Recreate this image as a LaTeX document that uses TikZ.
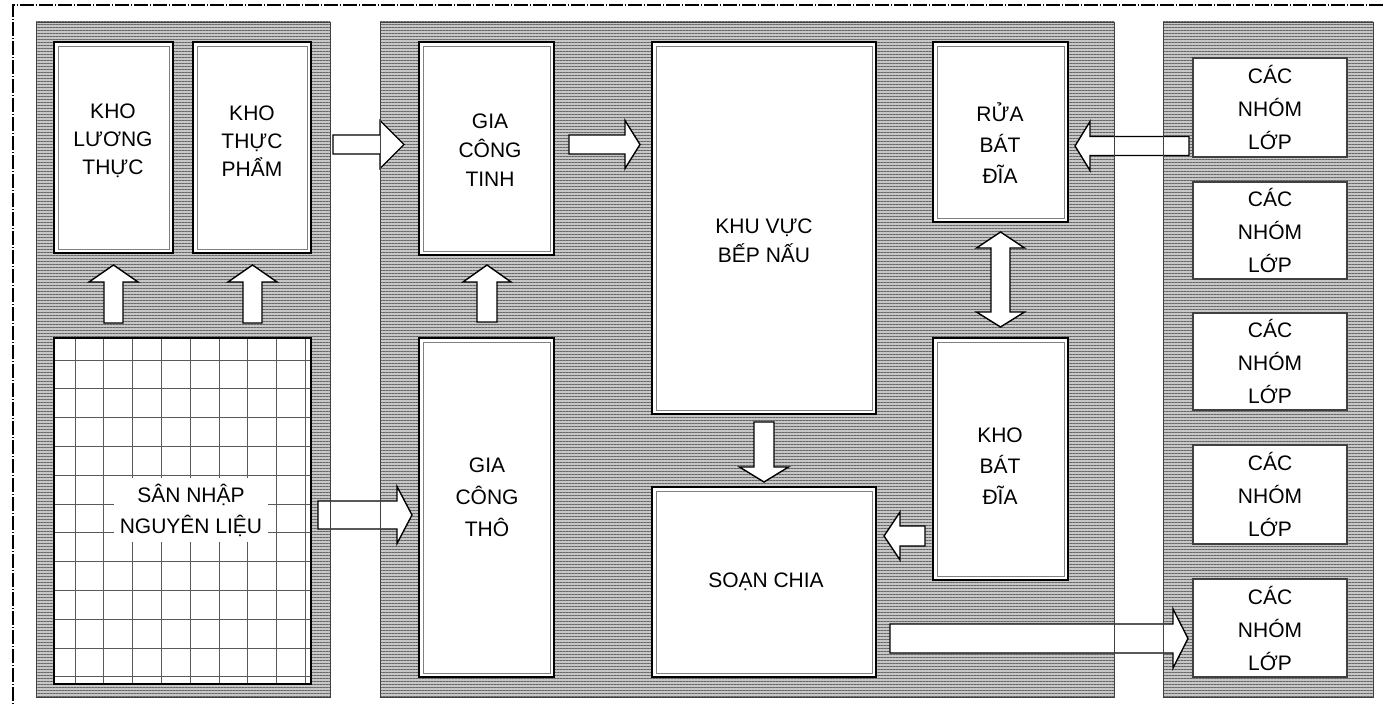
\documentclass[tikz,border=0pt]{standalone}
\usepackage{fontspec}
\setmainfont{Liberation Sans}
\usetikzlibrary{patterns.meta}
\newcommand\BAh[6]{% x start, x head base, x tip, y centre, shaft half, head half
  \draw[barrow] (#1,{#4-#5}) -- (#2,{#4-#5}) -- (#2,{#4-#6}) -- (#3,#4) -- (#2,{#4+#6}) -- (#2,{#4+#5}) -- (#1,{#4+#5}) -- cycle;}
\newcommand\BAv[6]{% y start, y head base, y tip, x centre, shaft half, head half
  \draw[barrow] ({#4-#5},#1) -- ({#4-#5},#2) -- ({#4-#6},#2) -- (#4,#3) -- ({#4+#6},#2) -- ({#4+#5},#2) -- ({#4+#5},#1) -- cycle;}
\newcommand\BAdv[7]{% tip1, base1, base2, tip2, x centre, shaft half, head half
  \draw[barrow] (#5,#1) -- ({#5+#7},#2) -- ({#5+#6},#2) -- ({#5+#6},#3) -- ({#5+#7},#3) -- (#5,#4) -- ({#5-#7},#3) -- ({#5-#6},#3) -- ({#5-#6},#2) -- ({#5-#7},#2) -- cycle;}
\newcommand\DBox[5]{% name, x1, y1, x2, y2
  \node[dbl, minimum width={(#4-#2)*1pt}, minimum height={(#5-#3)*1pt}] (#1) at ({(#2+#4)/2},{(#3+#5)/2}) {};
  \draw[innerline] ([xshift=4pt,yshift=-4pt]#1.north west) rectangle ([xshift=-4pt,yshift=4pt]#1.south east);}
\newcommand\LBox[4]{% name, y1, y2, text centre
  \node[lop, minimum width=154pt, minimum height={(#3-#2)*1pt}] (#1) at (1270,{(#2+#3)/2}) {};
  \node[lab, font=\fontsize{21}{33}\selectfont] (#1t) at (1270,#4) {CÁC\\NHÓM\\LỚP};}
\begin{document}
\begin{tikzpicture}[x=1pt,y=-1pt,
  panel/.style={fill=black!22, postaction={pattern={Lines[angle=0,distance=3pt,line width=1pt]}, pattern color=black!60}},
  panelborder/.style={draw=black!75,line width=0.9pt},
  dbl/.style={draw=black,line width=2.2pt,fill=white,inner sep=0pt,outer sep=0pt},
  innerline/.style={draw=black!50,line width=0.9pt},
  lop/.style={draw=black!75,line width=1.3pt,fill=white,inner sep=0pt},
  barrow/.style={draw=black,line width=1.4pt,fill=white,line join=miter},
  lab/.style={align=center,font=\fontsize{21}{30}\selectfont,inner sep=0pt},
  gridline/.style={draw=black!65,line width=0.9pt},
  sanbox/.style={draw=black,line width=2.2pt,inner sep=0pt},
  frame/.style={draw=black,line width=1.2pt,dash pattern=on 14pt off 2pt on 1pt off 2pt},
]
\useasboundingbox (0,0) rectangle (1383,706);
% panels
\path[panel] (36,22) rectangle (330,697);
\path[panel] (380,22) rectangle (1114,697);
\path[panel] (1163,22) rectangle (1373,697);
% left column
\DBox{kholt}{54}{42}{173}{253}
\DBox{khotp}{193}{42}{311}{253}
\node[lab, font=\fontsize{21}{28}\selectfont] (kholtt) at (113,141) {KHO\\LƯƠNG\\THỰC};
\node[lab, font=\fontsize{21}{28}\selectfont] (khotpt) at (252,141) {KHO\\THỰC\\PHẨM};
% san nhap
\node[fill=white, inner sep=0pt, minimum width=257pt, minimum height=346pt] (san) at (182.5,511) {};
\begin{scope}
  \clip (54,338) rectangle (311,684);
  \foreach \k in {0,...,8} \draw[gridline] ({75+28.8*\k},338) -- ({75+28.8*\k},684);
  \foreach \k in {0,...,11} \draw[gridline] (54,{360+28.8*\k}) -- (311,{360+28.8*\k});
\end{scope}
\node[sanbox, minimum width=257pt, minimum height=346pt] at (san.center) {};
\node[lab, font=\fontsize{21}{31}\selectfont, fill=white, inner sep=6pt] (sant) at (191,510) {SÂN NHẬP\\NGUYÊN LIỆU};
% middle column
\DBox{gct}{419}{42}{554}{255}
\DBox{gctho}{419}{338}{554}{677}
\DBox{bep}{652}{42}{876}{414}
\DBox{soan}{652}{487}{876}{677}
\DBox{rua}{933}{42}{1068}{222}
\DBox{khobat}{933}{338}{1068}{580}
\node[lab, font=\fontsize{21}{29}\selectfont] (gctt) at (490,150) {GIA\\CÔNG\\TINH};
\node[lab, font=\fontsize{21}{32}\selectfont] (gcthot) at (487,497) {GIA\\CÔNG\\THÔ};
\node[lab, font=\fontsize{21}{29}\selectfont] (bept) at (764,241) {KHU VỰC\\BẾP NẤU};
\node[lab] (soant) at (766,582) {SOẠN CHIA};
\node[lab, font=\fontsize{21}{31}\selectfont] (ruat) at (1000,143) {RỬA\\BÁT\\ĐĨA};
\node[lab, font=\fontsize{21}{31}\selectfont] (khobatt) at (1000,466) {KHO\\BÁT\\ĐĨA};
% right column
\LBox{lop1}{58}{157}{107}
\LBox{lop2}{182}{279}{230.5}
\LBox{lop3}{313}{410}{361.5}
\LBox{lop4}{445}{544}{494}
\LBox{lop5}{579}{677}{628}
% block arrows
\BAv{323}{282}{265}{113.5}{9.5}{24.5}
\BAv{323}{282}{265}{252.5}{9.5}{24.5}
\BAv{322}{282}{265}{487}{10}{24}
\BAh{333}{380}{404}{144.5}{9.5}{24}
\BAh{569}{625}{640}{144.5}{9.5}{24}
\BAh{1189}{1090}{1075}{146}{9.5}{24.5}
\BAh{318}{397}{412}{515}{14}{28.5}
\BAh{890}{1173}{1188}{638.5}{14.5}{29.5}
\BAh{925}{900}{884}{536}{10}{24}
\BAv{422}{467}{482}{764}{10}{24.5}
\BAdv{232}{248}{312}{327}{1000.5}{9.5}{24}
% panel borders on top
\draw[panelborder] (36,22) rectangle (330,697);
\draw[panelborder] (380,22) rectangle (1114,697);
\draw[panelborder] (1163,22) rectangle (1373,697);
% outer frame
\draw[frame] (13,720) -- (13,5) -- (1400,5);
\end{tikzpicture}
\end{document}
